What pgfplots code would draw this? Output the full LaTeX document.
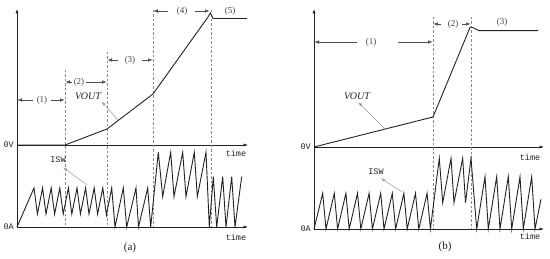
\documentclass[border=0pt]{standalone}
\usepackage{pgfplots}
\pgfplotsset{compat=1.18}
\usepackage{fontspec}
\setmainfont{Liberation Serif}
\setmonofont{Liberation Mono}
\usetikzlibrary{arrows.meta}

\definecolor{ink}{HTML}{222222}
\definecolor{dashgray}{HTML}{8A8A8A}
\definecolor{ptrgray}{HTML}{9A9A9A}

\tikzset{
  axarr/.style={ink, line width=0.7pt, -{Latex[length=4.5pt,width=3.2pt]}},
  intarr/.style={ink!80, line width=0.5pt, -{Latex[length=4.5pt,width=3.5pt]}},
  ptrarr/.style={ptrgray, line width=0.5pt, -{Latex[length=4pt,width=3pt]}},
  vdash/.style={dashgray, line width=0.5pt, dash pattern=on 2.5pt off 2pt},
  wave/.style={ink, line width=0.9pt},
  lab/.style={font=\fontsize{9}{10}\selectfont, text=ink!85},
  monolab/.style={font=\ttfamily\fontsize{8.5}{10}\selectfont, text=ink},
}

\begin{document}
\begin{tikzpicture}
\begin{axis}[
  hide axis, scale only axis, clip=false,
  width=550pt, height=259pt,
  xmin=0, xmax=550, ymin=0, ymax=259,
]
% bounding box
\addplot[draw=none] coordinates {(0,0) (550,259)};

% ---------- panel (a) ----------
% axes
\addplot[axarr] coordinates {(17,32) (17,250)};
\addplot[axarr] coordinates {(17,114) (248,114)};
\addplot[axarr] coordinates {(17,32) (248,32)};
% dashed phase borders
\addplot[vdash] coordinates {(65,189) (65,32)};
\addplot[vdash] coordinates {(107,207) (107,32)};
\addplot[vdash] coordinates {(153,249) (153,32)};
\addplot[vdash] coordinates {(211,249) (211,32)};
% interval arrows
\addplot[intarr] coordinates {(33,159) (17.5,159)};
\addplot[intarr] coordinates {(51,159) (64.5,159)};
\addplot[intarr] coordinates {(72,177) (65.5,177)};
\addplot[intarr] coordinates {(86,177) (106.5,177)};
\addplot[intarr] coordinates {(118,199) (107.5,199)};
\addplot[intarr] coordinates {(142,199) (152.5,199)};
\addplot[intarr] coordinates {(168,248) (153.5,248)};
\addplot[intarr] coordinates {(195,248) (209.5,248)};
% VOUT
\addplot[wave] coordinates {(17,114) (65,114) (107,130) (153,165) (208,242) (210.5,246) (213,240.5) (247,240.5)};
% ISW
\addplot[wave] coordinates {
  (17,32) (34,71) (37.4,45) (42.6,71) (46,45) (51.2,71) (54.6,45) (59.8,71)
  (63.2,45) (68.4,71) (71.8,45) (77,71) (80.4,45) (85.6,71) (89,45) (94.2,71)
  (97.6,45) (102.8,71) (106.4,44) (111.7,71) (115,32) (123.3,71) (126.7,32)
  (136,71) (138.5,32) (147.7,71) (150.7,32) (158.3,106.7) (162.7,62.3)
  (170.7,106.7) (174,62.3) (182.7,106.7) (186,62.3) (194.3,106.7) (197.3,62.3)
  (206,106.7) (209.3,32) (213.3,82.3) (216.7,32) (222.7,82.3) (226,32)
  (231.7,82.3) (235,32) (241.7,82.3)};
% pointers
\addplot[ptrarr] coordinates {(118,139) (101.7,157.3)};
\addplot[ptrarr] coordinates {(87.3,74) (63.3,91.3)};

% ---------- panel (b) ----------
\addplot[axarr] coordinates {(314,30) (314,250)};
\addplot[axarr] coordinates {(314,112) (544,112)};
\addplot[axarr] coordinates {(314,30) (544,30)};
\addplot[vdash] coordinates {(433,242) (433,30)};
\addplot[vdash] coordinates {(471,242) (471,30)};
\addplot[intarr] coordinates {(357,217) (314.5,217)};
\addplot[intarr] coordinates {(398,217) (432.5,217)};
\addplot[intarr] coordinates {(441,235) (433.5,235)};
\addplot[intarr] coordinates {(462,235) (470.5,235)};
\addplot[wave] coordinates {(314,112) (433,142) (470,231.5) (471.5,232) (479,228.3) (538,228.3)};
\addplot[wave] coordinates {
  (314,30) (322.7,65.7) (326,30) (334.3,65.7) (337.6,30) (345.9,65.7) (349.2,30)
  (357.5,65.7) (360.8,30) (369.1,65.7) (372.4,30) (380.7,65.7) (384,30)
  (392.3,65.7) (395.6,30) (403.9,65.7) (407.2,30) (415.5,65.7) (418.8,30)
  (427.1,65.7) (430.4,30) (439.3,100.7) (442.7,56.3) (451,100.7) (454,56.3)
  (462.7,100.7) (465.5,56.3) (471,100.7) (476.7,30) (485,82.3) (488.3,30)
  (496.7,82.3) (500,30) (508.3,82.3) (511.7,30) (520,82.3) (523.3,30)
  (531.7,82.3) (535,30) (541,59.7)};
\addplot[ptrarr] coordinates {(386,129) (358.3,156.7)};
\addplot[ptrarr] coordinates {(401.7,67.3) (381,80.7)};

% ---------- labels ----------
\node[lab] at (axis cs:42,159) {(1)};
\node[lab] at (axis cs:79,177) {(2)};
\node[lab] at (axis cs:130,199) {(3)};
\node[lab] at (axis cs:182,248) {(4)};
\node[lab] at (axis cs:230,248) {(5)};
\node[lab] at (axis cs:371,217) {(1)};
\node[lab] at (axis cs:453,235) {(2)};
\node[lab] at (axis cs:502,237) {(3)};
\node[font=\itshape\fontsize{10}{12}\selectfont, text=ink] at (axis cs:88,163) {VOUT};
\node[font=\itshape\fontsize{10}{12}\selectfont, text=ink] at (axis cs:357,163) {VOUT};
\node[monolab] at (axis cs:58,99) {ISW};
\node[monolab] at (axis cs:376,87.5) {ISW};
\node[monolab, anchor=east, inner sep=1pt] at (axis cs:15,114) {0V};
\node[monolab, anchor=east, inner sep=1pt] at (axis cs:15,32) {0A};
\node[monolab, anchor=east, inner sep=1pt] at (axis cs:312,112) {0V};
\node[monolab, anchor=east, inner sep=1pt] at (axis cs:312,30) {0A};
\node[monolab] at (axis cs:236,106) {time};
\node[monolab] at (axis cs:236,22) {time};
\node[monolab] at (axis cs:530,102) {time};
\node[monolab] at (axis cs:530,23) {time};
\node[font=\fontsize{11}{12}\selectfont, text=ink] at (axis cs:130,11) {(a)};
\node[font=\fontsize{11}{12}\selectfont, text=ink] at (axis cs:445,12) {(b)};
\end{axis}
\end{tikzpicture}
\end{document}
